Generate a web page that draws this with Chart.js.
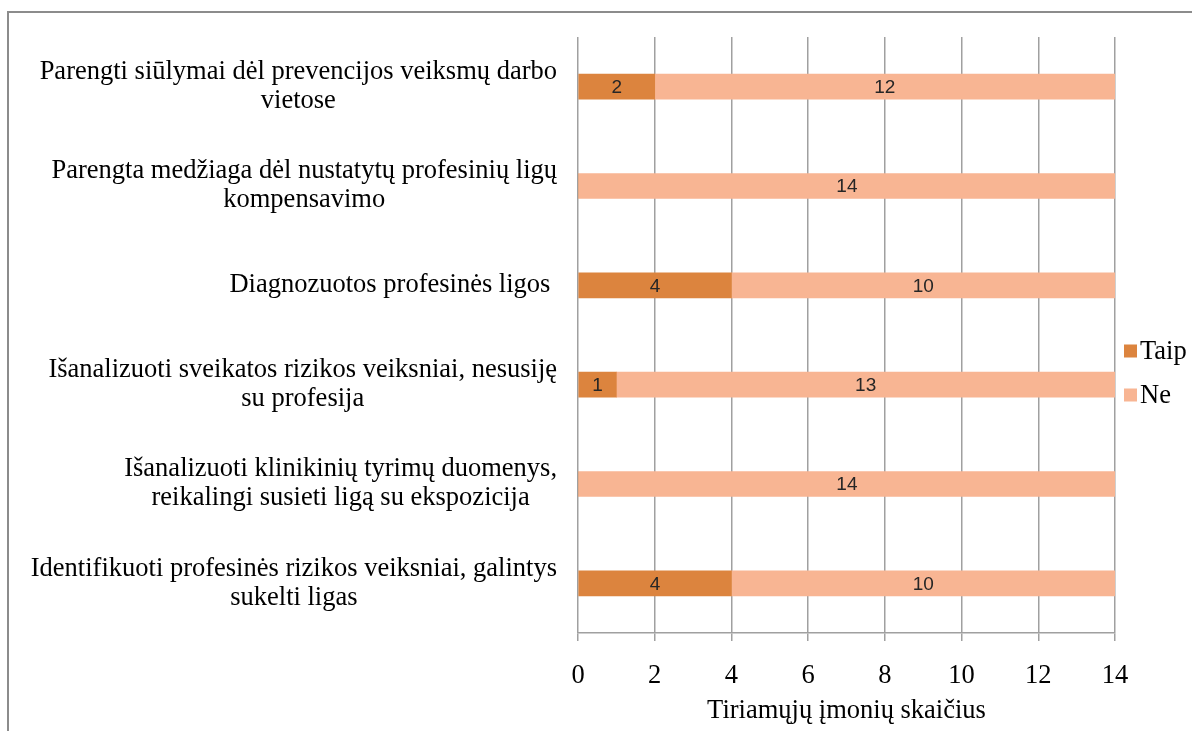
<!DOCTYPE html>
<html lang="lt">
<head>
<meta charset="utf-8">
<script src="https://cdn.jsdelivr.net/npm/chart.js@4.4.1/dist/chart.umd.min.js"></script>
<style>
  html, body { margin: 0; padding: 0; background: #fff; overflow: hidden; }
  #wrap { position: relative; width: 1192px; height: 731px; }
  #frame { position: absolute; left: 7px; top: 11px; width: 1300px; height: 800px;
           border-top: 2px solid #8c8c8c; border-left: 2px solid #8c8c8c; pointer-events: none; }
  canvas { position: absolute; left: 0; top: 0; }
</style>
</head>
<body>
<div id="wrap">
  <canvas id="chart" width="1192" height="731"></canvas>
  <div id="frame"></div>
</div>
<script>
// Categories (wrapped into lines as they are printed beside the bars)
const categories = [
  ['Parengti siūlymai dėl prevencijos veiksmų darbo', 'vietose'],
  ['Parengta medžiaga dėl nustatytų profesinių ligų', 'kompensavimo'],
  ['Diagnozuotos profesinės ligos '],
  ['Išanalizuoti sveikatos rizikos veiksniai, nesusiję', 'su profesija'],
  ['Išanalizuoti klinikinių tyrimų duomenys,', 'reikalingi susieti ligą su ekspozicija'],
  ['Identifikuoti profesinės rizikos veiksniai, galintys', 'sukelti ligas']
];
const taip = [2, 0, 4, 1, 0, 4];
const ne = [12, 14, 10, 13, 14, 10];
const seriesNames = ['Taip', 'Ne'];
const axisTitle = 'Tiriamųjų įmonių skaičius';
const xMax = 14;
const xStep = 2;

const SERIF = '"Liberation Serif", "Times New Roman", serif';
const SANS = '"Liberation Sans", Arial, sans-serif';
const COLORS = ['#dc843e', '#f8b593'];
const GRID = '#a0a0a0';

// Category labels: each block right-aligned next to the axis, its lines centred within the block
const categoryLabels = {
  id: 'categoryLabels',
  afterDraw(chart) {
    const ctx = chart.ctx;
    const y = chart.scales.y;
    const right = chart.chartArea.left - 21;
    const lineH = 29;
    ctx.save();
    ctx.font = '26.5px ' + SERIF;
    ctx.fillStyle = '#000';
    ctx.textAlign = 'center';
    ctx.textBaseline = 'middle';
    chart.data.labels.forEach((lines, i) => {
      const cy = y.getPixelForValue(i);
      const w = Math.max(...lines.map(l => ctx.measureText(l).width));
      const cx = right - w / 2;
      const y0 = cy - (lines.length - 1) * lineH / 2;
      lines.forEach((l, k) => ctx.fillText(l, cx, y0 + k * lineH));
    });
    ctx.restore();
  }
};

// Value printed in the middle of every non-empty bar segment
const segmentValues = {
  id: 'segmentValues',
  afterDatasetsDraw(chart) {
    const ctx = chart.ctx;
    ctx.save();
    ctx.font = '19px ' + SANS;
    ctx.fillStyle = '#262626';
    ctx.textAlign = 'center';
    ctx.textBaseline = 'middle';
    chart.data.datasets.forEach((ds, di) => {
      chart.getDatasetMeta(di).data.forEach((bar, i) => {
        const v = ds.data[i];
        if (!v) return;
        const p = bar.getProps(['x', 'y', 'base'], true);
        ctx.fillText(String(v), (p.x + p.base) / 2, p.y + 1);
      });
    });
    ctx.restore();
  }
};

// Series key on the right of the plot
const seriesKey = {
  id: 'seriesKey',
  afterDraw(chart) {
    const ctx = chart.ctx;
    const a = chart.chartArea;
    const x = a.right + 9;
    const box = 13;
    const gap = 44;
    const n = chart.data.datasets.length;
    const midY = (a.top + a.bottom) / 2 + 38;
    ctx.save();
    ctx.font = '26.5px ' + SERIF;
    ctx.textBaseline = 'middle';
    ctx.textAlign = 'left';
    chart.data.datasets.forEach((ds, i) => {
      const cy = midY + (i - (n - 1) / 2) * gap;
      ctx.fillStyle = ds.backgroundColor;
      ctx.fillRect(x, cy - box / 2, box, box);
      ctx.fillStyle = '#000';
      ctx.fillText(ds.label, x + box + 3, cy + 1);
    });
    ctx.restore();
  }
};

new Chart(document.getElementById('chart'), {
  type: 'bar',
  data: {
    labels: categories,
    datasets: [
      { label: seriesNames[0], data: taip, backgroundColor: COLORS[0] },
      { label: seriesNames[1], data: ne, backgroundColor: COLORS[1] }
    ]
  },
  options: {
    indexAxis: 'y',
    responsive: false,
    animation: false,
    devicePixelRatio: 1,
    barThickness: 25,
    layout: { padding: { left: 0, top: 37, right: 77, bottom: 0 } },
    plugins: {
      legend: { display: false },
      tooltip: { enabled: false }
    },
    scales: {
      x: {
        stacked: true,
        min: 0,
        max: xMax,
        ticks: { stepSize: xStep, color: '#000', padding: 19, font: { family: SERIF, size: 26.5 } },
        grid: { color: GRID, lineWidth: 1.5, tickLength: 8, tickColor: GRID },
        border: { display: true, color: GRID, width: 1.5 },
        title: { display: true, text: axisTitle, color: '#000',
                 font: { family: SERIF, size: 26.5 }, padding: { top: 0, bottom: 4 } },
        afterFit(scale) { scale.height = 98; }
      },
      y: {
        stacked: true,
        ticks: { display: false },
        grid: { display: false },
        border: { display: false },
        afterFit(scale) { scale.width = 578; }
      }
    }
  },
  plugins: [categoryLabels, segmentValues, seriesKey]
});
</script>
</body>
</html>
